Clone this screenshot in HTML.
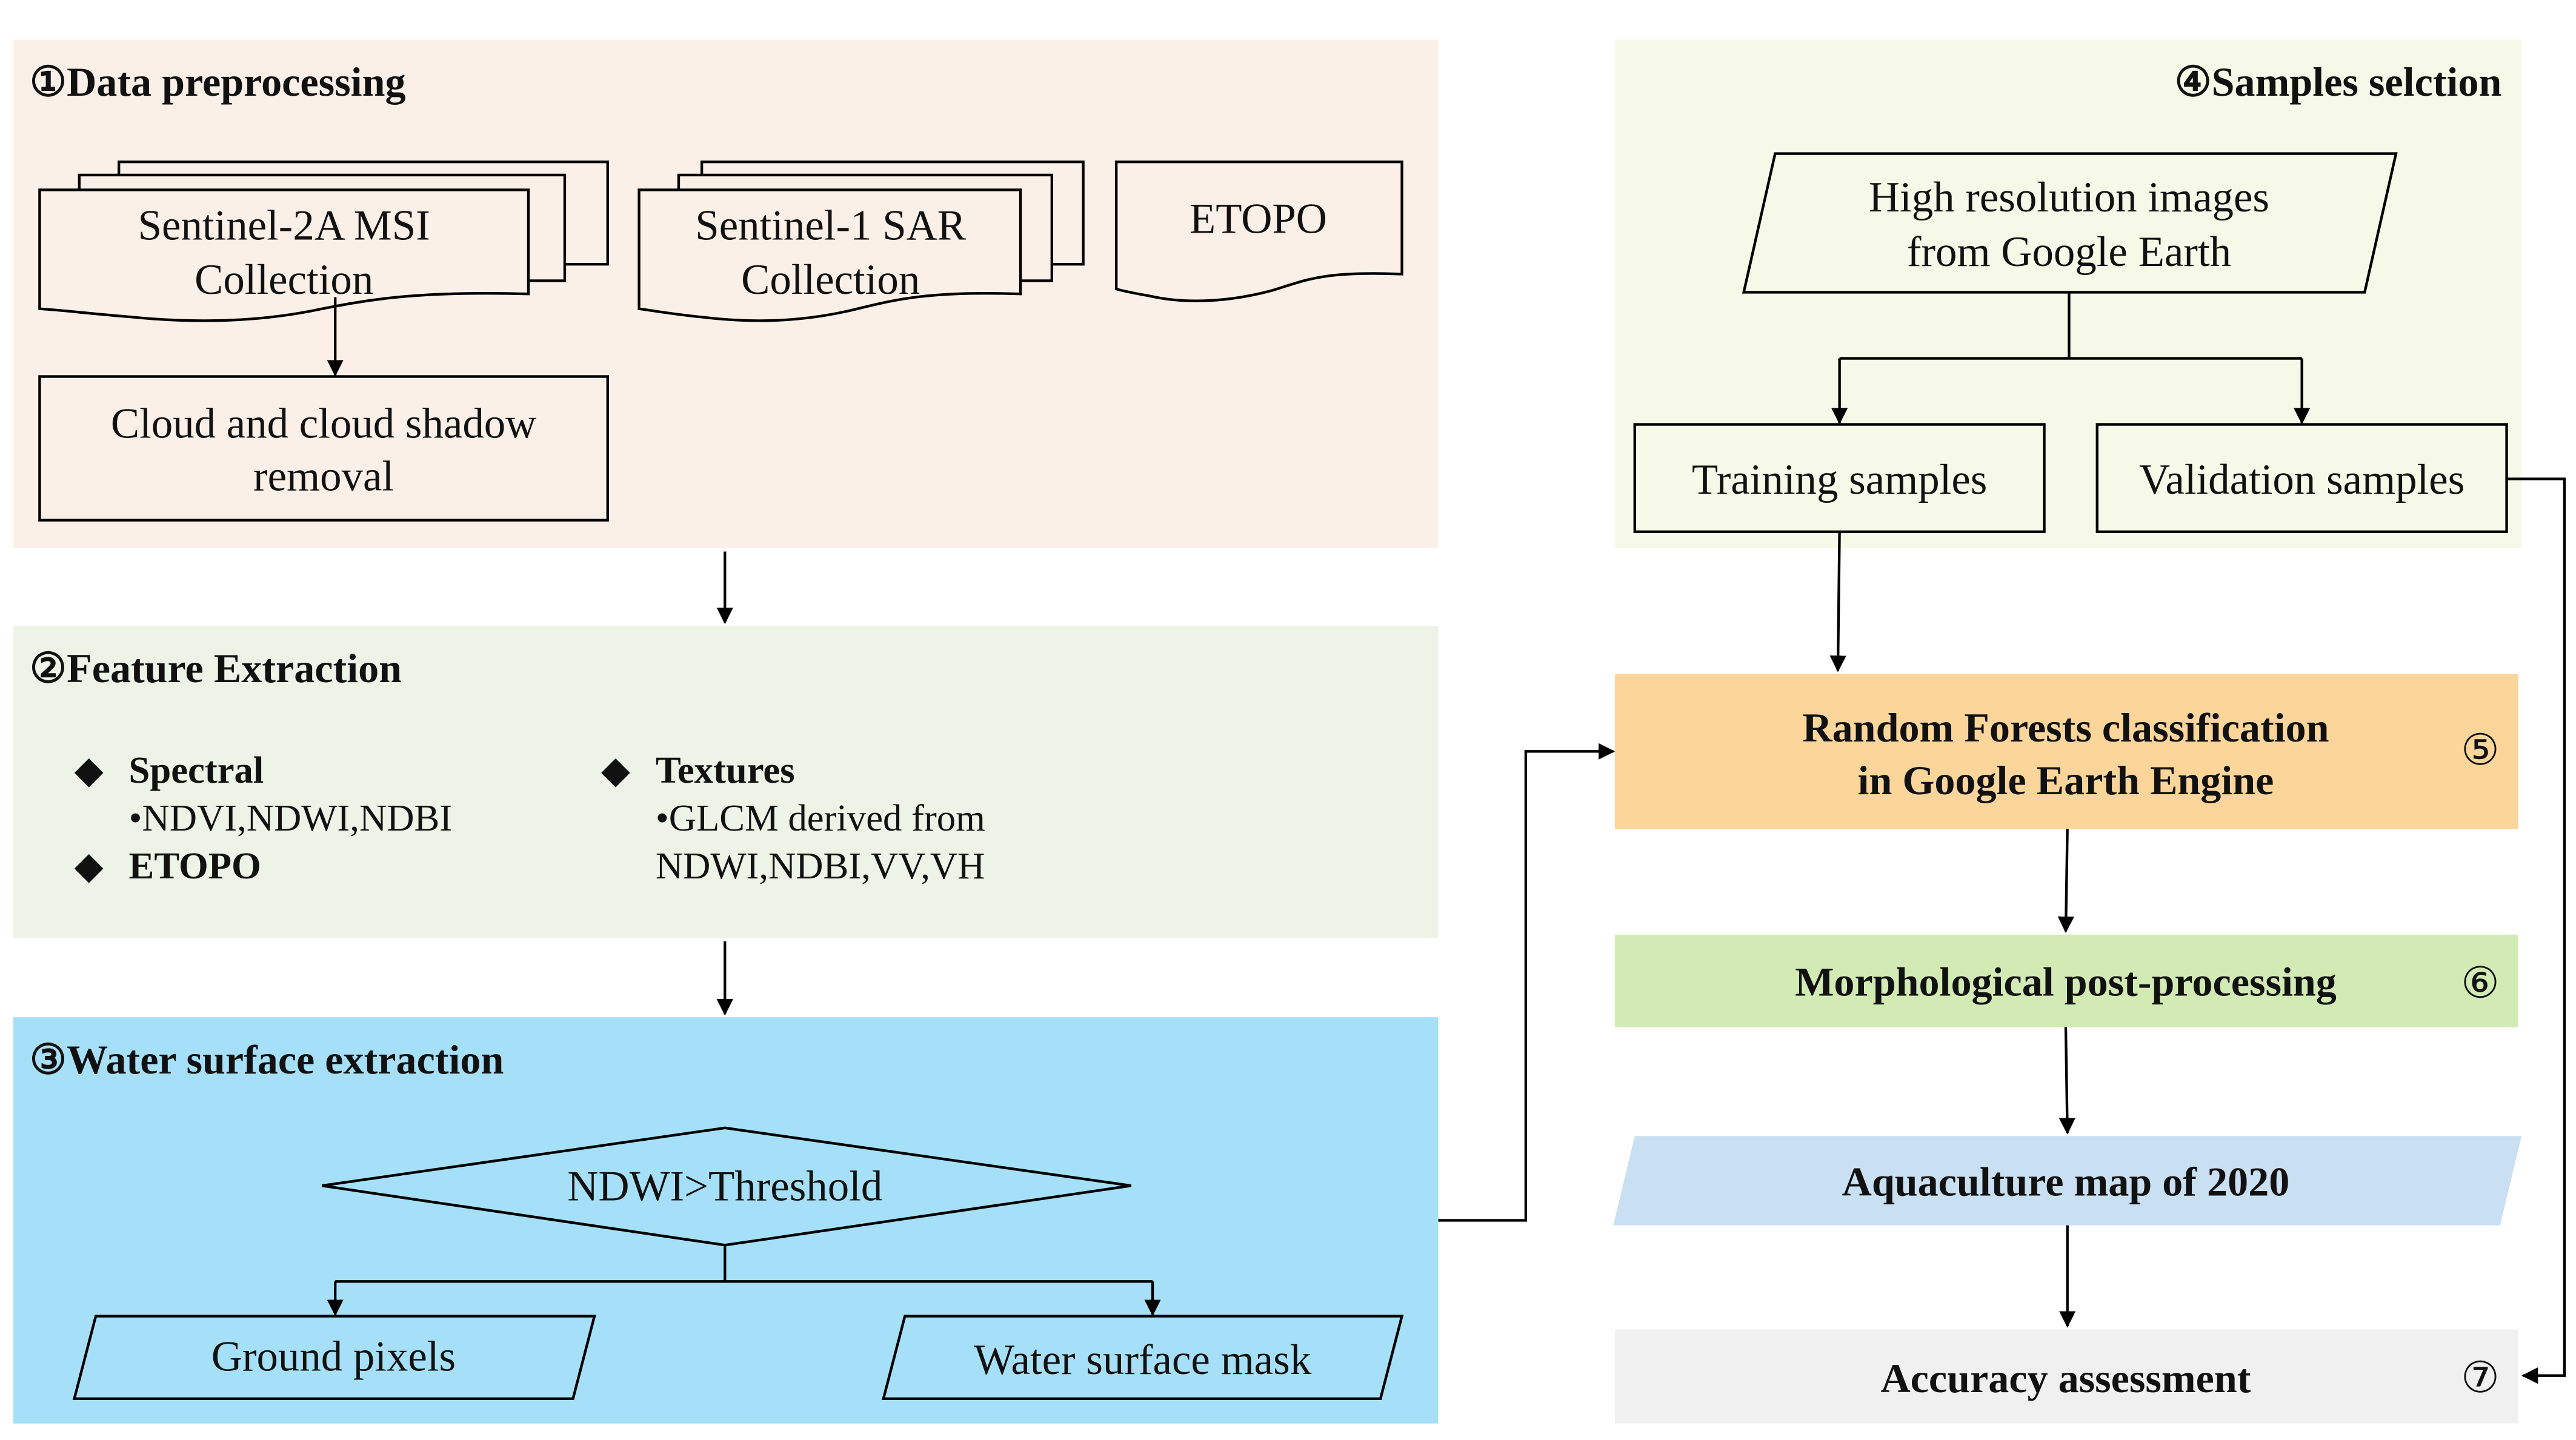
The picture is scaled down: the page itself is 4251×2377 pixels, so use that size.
<!DOCTYPE html>
<html><head><meta charset="utf-8"><style>
html,body{margin:0;padding:0;background:#fff;}
svg{display:block;}
text{font-family:"Liberation Serif",serif;fill:#111;}
.b{font-weight:bold;}
</style></head><body>
<svg width="4251" height="2377" viewBox="0 0 1560 872" preserveAspectRatio="none" xmlns="http://www.w3.org/2000/svg">
<defs><marker id="a" markerWidth="10" markerHeight="10" refX="9" refY="5" orient="auto" markerUnits="userSpaceOnUse"><path d="M0,0 L10,5 L0,10 z" fill="#000"/></marker></defs>
<!-- panels -->
<rect x="8" y="24" width="863" height="308" fill="#fbf0e8"/>
<rect x="8" y="379" width="863" height="189" fill="#edf3e6"/>
<rect x="8" y="616" width="863" height="246" fill="#a6e0f8"/>
<rect x="978" y="24" width="549" height="308" fill="#f7f9e8"/>
<rect x="978" y="408" width="547" height="94" fill="#fcd59a"/>
<rect x="978" y="566" width="547" height="56" fill="#d2ebb4"/>
<polygon points="990,688 1527,688 1514,742 977,742" fill="#c9dff2"/>
<rect x="978" y="805" width="547" height="57" fill="#f0f0f0"/>

<g stroke="#000" stroke-width="1.6" fill="#fbf0e8">
<!-- S2 -->
<path d="M72,98 H368 V160 H72 Z"/>
<path d="M48,106 H342 V170 H48 Z"/>
<path d="M24,115 H320 V178 C250,176 220,182 190,188 C150,196 110,195 80,192 C55,190 40,188 24,187 Z"/>
<!-- S1 -->
<path d="M425,98 H656 V160 H425 Z"/>
<path d="M411,106 H637 V170 H411 Z"/>
<path d="M387,115 H618 V178 C560,176 540,182 515,188 C480,196 450,195 425,192 C405,190 395,188 387,187 Z"/>
<!-- ETOPO -->
<path d="M676,98 H849 V166 C800,164 790,170 770,176 C740,184 715,183 700,180 C690,178 683,177 676,175 Z"/>
<rect x="24" y="228" width="344" height="87"/>
</g>
<g stroke="#000" stroke-width="1.6" fill="none">
<polygon points="1075,93 1451,93 1432,177 1056,177" fill="#f7f9e8"/>
<rect x="990" y="257" width="248" height="65" fill="#f7f9e8"/>
<rect x="1270" y="257" width="248" height="65" fill="#f7f9e8"/>
<polygon points="439,683 685,718 439,754 195,718" fill="#a6e0f8"/>
<polygon points="58,797 360,797 347,847 45,847" fill="#a6e0f8"/>
<polygon points="548,797 849,797 836,847 535,847" fill="#a6e0f8"/>
</g>
<!-- connectors -->
<g stroke="#000" stroke-width="1.6" fill="none">
<path d="M203,180 V227" marker-end="url(#a)"/>
<path d="M439,334 V377" marker-end="url(#a)"/>
<path d="M439,570 V614" marker-end="url(#a)"/>
<path d="M439,754 V776 M203,776 H698"/>
<path d="M203,776 V796" marker-end="url(#a)"/>
<path d="M698,776 V796" marker-end="url(#a)"/>
<path d="M1253,177 V217 M1114,217 H1394"/>
<path d="M1114,217 V256" marker-end="url(#a)"/>
<path d="M1394,217 V256" marker-end="url(#a)"/>
<path d="M1114,322 L1113,406" marker-end="url(#a)"/>
<path d="M1518,290 H1553 V833 H1528" marker-end="url(#a)"/>
<path d="M871,739 H924 V455 H977" marker-end="url(#a)"/>
<path d="M1252,502 L1251,564" marker-end="url(#a)"/>
<path d="M1251,622 L1252,686" marker-end="url(#a)"/>
<path d="M1252,742 V803" marker-end="url(#a)"/>
</g>
<!-- titles -->
<g font-size="25">
<text x="18" y="58" class="b">①Data preprocessing</text>
<text x="18" y="413" class="b">②Feature Extraction</text>
<text x="18" y="650" class="b">③Water surface extraction</text>
<text x="1515" y="58" class="b" text-anchor="end">④Samples selction</text>
</g>
<g font-size="26" text-anchor="middle">
<text x="172" y="145">Sentinel-2A MSI</text>
<text x="172" y="178">Collection</text>
<text x="503" y="145">Sentinel-1 SAR</text>
<text x="503" y="178">Collection</text>
<text x="762" y="141">ETOPO</text>
<text x="196" y="265">Cloud and cloud shadow</text>
<text x="196" y="297">removal</text>
<text x="1253" y="128">High resolution images</text>
<text x="1253" y="161">from Google Earth</text>
<text x="1114" y="299">Training samples</text>
<text x="1394" y="299">Validation samples</text>
<text x="439" y="727">NDWI&gt;Threshold</text>
<text x="202" y="830">Ground pixels</text>
<text x="692" y="832">Water surface mask</text>
</g>
<g font-size="23">
<text x="45" y="474">◆</text><text x="78" y="474" class="b">Spectral</text>
<text x="78" y="503">•NDVI,NDWI,NDBI</text>
<text x="45" y="532">◆</text><text x="78" y="532" class="b">ETOPO</text>
<text x="364" y="474">◆</text><text x="397" y="474" class="b">Textures</text>
<text x="397" y="503">•GLCM derived from</text>
<text x="397" y="532">NDWI,NDBI,VV,VH</text>
</g>
<g font-size="25" text-anchor="middle" class="b">
<text x="1251" y="449" class="b">Random Forests classification</text>
<text x="1251" y="481" class="b">in Google Earth Engine</text>
<text x="1251" y="603" class="b">Morphological post-processing</text>
<text x="1251" y="724" class="b">Aquaculture map of 2020</text>
<text x="1251" y="843" class="b">Accuracy assessment</text>
</g>
<g font-size="26" text-anchor="middle">
<text x="1502" y="463">⑤</text>
<text x="1502" y="604">⑥</text>
<text x="1502" y="843">⑦</text>
</g>
</svg>
</body></html>
